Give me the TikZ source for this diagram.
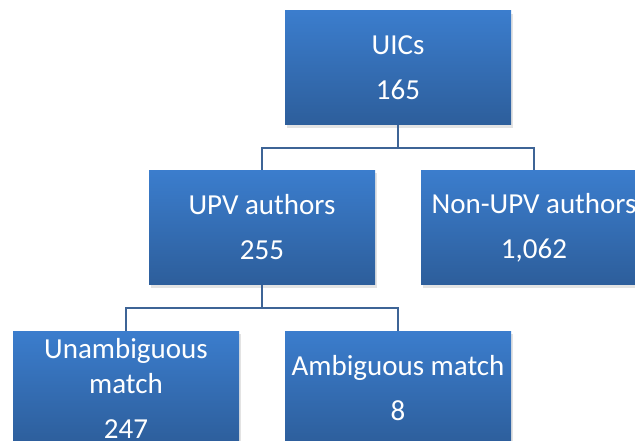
\documentclass[tikz,border=0pt]{standalone}
\usepackage{fontspec}
\setmainfont{Carlito}
\usetikzlibrary{shadows}
\definecolor{boxtop}{RGB}{59,125,205}
\definecolor{boxbot}{RGB}{45,94,155}
\definecolor{linkc}{RGB}{62,100,150}
\tikzset{
  orgbox/.style={rectangle, draw=none, minimum width=226pt, minimum height=114pt,
    inner sep=0pt, top color=boxtop, bottom color=boxbot, text=white,
    align=center, font=\fontsize{29}{35}\selectfont,
    drop shadow={opacity=0.22, shadow xshift=2pt, shadow yshift=-3pt}},
  link/.style={draw=linkc, line width=1.5pt}
}
\begin{document}
\begin{tikzpicture}[x=1pt,y=-1pt]
\useasboundingbox (0,0) rectangle (635,441);
\clip (0,0) rectangle (635,441);
\node[orgbox] (uics) at (398,68) {UICs\\[10pt]165};
\node[orgbox] (upv) at (262,227.5) {UPV authors\\[10pt]255};
\node[orgbox] (nonupv) at (534,227.5) {Non-UPV authors\\[10pt]1,062};
\node[orgbox] (unamb) at (126,388) {Unambiguous\\match\\[10pt]247};
\node[orgbox] (amb) at (398,388) {Ambiguous match\\[10pt]8};
\coordinate (j1) at (398,148);
\coordinate (j2) at (262,308);
\draw[link] (uics.south) -- (j1) -| (upv.north);
\draw[link] (j1) -| (nonupv.north);
\draw[link] (upv.south) -- (j2) -| (unamb.north);
\draw[link] (j2) -| (amb.north);
\end{tikzpicture}
\end{document}
